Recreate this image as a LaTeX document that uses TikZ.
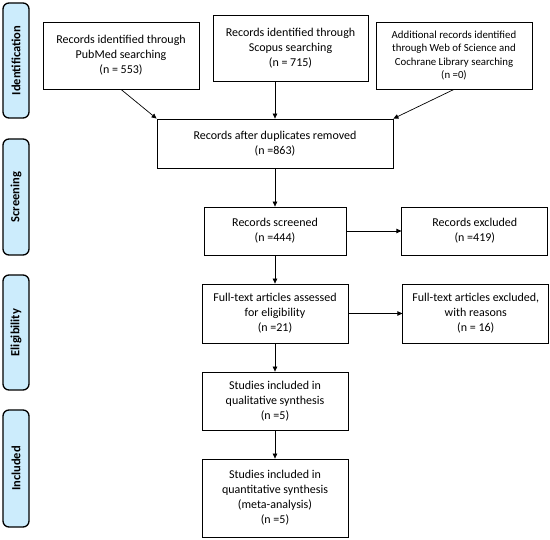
\documentclass[tikz,border=0pt]{standalone}
\usepackage{fontspec}
\setmainfont{Carlito}
\usetikzlibrary{arrows.meta,positioning}
\definecolor{bandblue}{RGB}{204,236,252}

\begin{document}
\begin{tikzpicture}[
        x=1pt, y=-1pt,
        >={Triangle[length=5pt,width=4.5pt]},
        node distance=54pt,
        every node/.style={align=center, font=\fontsize{12}{15}\selectfont},
        record/.style={draw, line width=0.8pt, inner sep=2pt},
        small/.style={font=\fontsize{10.8}{13.3}\selectfont},
        band/.style={draw, line width=1.3pt, rounded corners=6pt, fill=bandblue, rotate=90,
            minimum height=26pt, font=\fontsize{12.5}{14}\selectfont\bfseries},
        link/.style={->, line width=0.7pt}
    ]
        \useasboundingbox (0,0) rectangle (550,540);

        % phase bands
        \node[band, minimum width=115pt] (b1) at (16,60.5) {Identification};
        \node[band, minimum width=116pt] (b2) at (16,197) {Screening};
        \node[band, minimum width=115pt] (b3) at (16,332.5) {Eligibility};
        \node[band, minimum width=117pt] (b4) at (16,468.5) {Included};

        % identification
        \node[record, minimum width=156pt, minimum height=67pt] (pubmed) at (121,55.5)
            {Records identified through\\PubMed searching\\(n = 553)};
        \node[record, minimum width=155pt, minimum height=66pt] (scopus) at (290.5,48)
            {Records identified through\\Scopus searching\\(n = 715)};
        \node[record, small, minimum width=156pt, minimum height=67pt] (other) at (454,55.5)
            {Additional records identified\\through Web of Science and\\Cochrane Library searching\\(n =0)};

        % screening
        \node[record, minimum width=236pt, minimum height=49pt] (dedup) at (275,143.5)
            {Records after duplicates removed\\(n =863)};
        \node[record, minimum width=142pt, minimum height=48pt] (screened) at (275,231)
            {Records screened\\(n =444)};
        \node[record, minimum width=146pt, minimum height=48pt, right=55pt of screened] (excl)
            {Records excluded\\(n =419)};

        % eligibility
        \node[record, minimum width=146pt, minimum height=59pt] (fulltext) at (275,313.5)
            {Full-text articles assessed\\for eligibility\\(n =21)};
        \node[record, minimum width=146pt, minimum height=59pt, right=of fulltext] (ftexcl)
            {Full-text articles excluded,\\with reasons\\(n = 16)};

        % included
        \node[record, minimum width=146pt, minimum height=58pt] (qual) at (275,401)
            {Studies included in\\qualitative synthesis\\(n =5)};
        \node[record, minimum width=146pt, minimum height=78pt] (quant) at (275,498)
            {Studies included in\\quantitative synthesis\\(meta-analysis)\\(n =5)};

        \draw[link] (pubmed.south) -- (dedup.north west);
        \draw[link] (dedup.north |- scopus.south) -- (dedup.north);
        \draw[link] (other.south) -- (dedup.north east);
        \draw[link] (dedup) -- (screened);
        \draw[link] (screened) -- (excl);
        \draw[link] (screened) -- (fulltext);
        \draw[link] (fulltext) -- (ftexcl);
        \draw[link] (fulltext) -- (qual);
        \draw[link] (qual) -- (quant);
    \end{tikzpicture}
\end{document}
